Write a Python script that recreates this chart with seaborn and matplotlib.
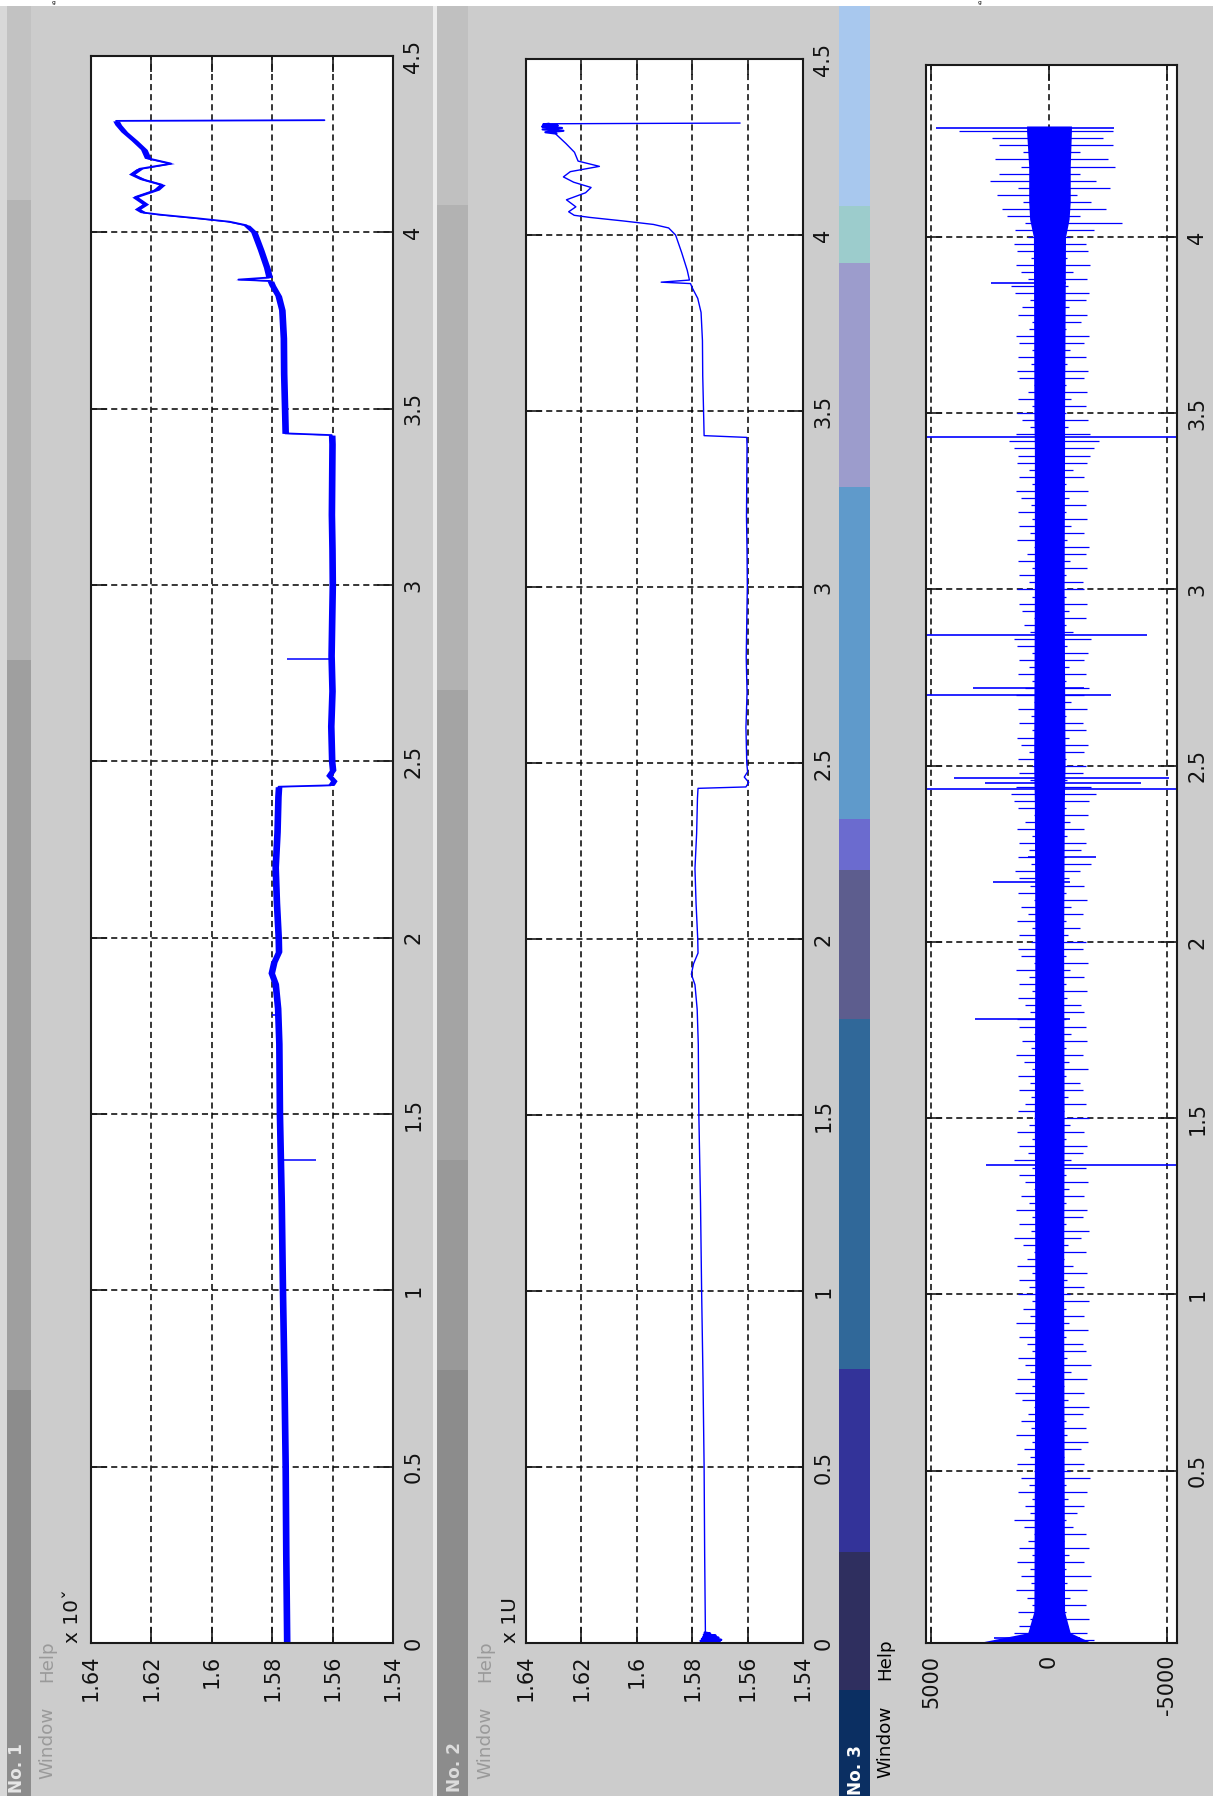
import numpy as np
import matplotlib
matplotlib.use("Agg")
import matplotlib.pyplot as plt
from matplotlib.patches import Rectangle
import seaborn as sns

# ------------------------------------------------------------------ data
value_ticks = [1.64, 1.62, 1.60, 1.58, 1.56, 1.54]
value_labels = ["1.64", "1.62", "1.6", "1.58", "1.56", "1.54"]
time_ticks = [0, 0.5, 1, 1.5, 2, 2.5, 3, 3.5, 4, 4.5]
time_labels = ["0", "0.5", "1", "1.5", "2", "2.5", "3", "3.5", "4", "4.5"]
amp_ticks = [5000, 0, -5000]
amp_labels = ["5000", "0", "-5000"]
amp_time_ticks = [0.5, 1, 1.5, 2, 2.5, 3, 3.5, 4]
amp_time_labels = ["0.5", "1", "1.5", "2", "2.5", "3", "3.5", "4"]

# shared trend of windows No. 1 and No. 2 (time, value)
trend_t = [0.000, 0.25, 0.50, 0.75, 1.00, 1.25, 1.50, 1.70, 1.80, 1.87,
           1.90, 1.93, 1.96, 2.00, 2.10, 2.20, 2.30, 2.40, 2.428, 2.432,
           2.445, 2.46, 2.475, 2.50, 2.60, 2.70, 2.80, 2.90, 3.00, 3.10,
           3.20, 3.30, 3.40, 3.425, 3.430, 3.50, 3.60, 3.70, 3.78, 3.82,
           3.85, 3.862, 3.866, 3.872, 3.90, 3.95, 4.00, 4.02, 4.03, 4.04,
           4.05, 4.056, 4.066, 4.08, 4.10, 4.12, 4.135, 4.15, 4.165, 4.18,
           4.195, 4.21, 4.235, 4.26, 4.285, 4.305, 4.316, 4.318]
trend_v = [1.5752, 1.5755, 1.5757, 1.5761, 1.5766, 1.5770, 1.5776, 1.5778, 1.5782, 1.5790,
           1.5803, 1.5795, 1.5779, 1.5780, 1.5786, 1.5790, 1.5784, 1.5781, 1.5779, 1.5606,
           1.5596, 1.5612, 1.5600, 1.5603, 1.5606, 1.5602, 1.5605, 1.5603, 1.5601, 1.5602,
           1.5604, 1.5603, 1.5602, 1.5603, 1.5757, 1.5759, 1.5762, 1.5763, 1.5768, 1.5780,
           1.5800, 1.5806, 1.5912, 1.5810, 1.5818, 1.5838, 1.5860, 1.5885, 1.5940, 1.6050,
           1.6170, 1.6226, 1.6246, 1.6220, 1.6254, 1.6185, 1.6165, 1.6228, 1.6265, 1.6240,
           1.6135, 1.6212, 1.6225, 1.6256, 1.6290, 1.6310, 1.6317, 1.5627]
p1_noise_halfwidth = 0.0011

# isolated spikes of window No. 1
p1_spike_t = [1.369, 1.780, 2.790]
p1_spike_from = [1.5770, 1.5780, 1.5604]
p1_spike_to = [1.5655, 1.5800, 1.5752]

# blobs of window No. 2
p2_start_t = [0.000, 0.003, 0.006, 0.009, 0.012, 0.015, 0.018, 0.021, 0.024, 0.027, 0.030]
p2_start_v = [1.5752, 1.5700, 1.5770, 1.5695, 1.5765, 1.5705, 1.5760, 1.5715, 1.5758, 1.5735, 1.5755]
p2_end_t = [4.288, 4.292, 4.296, 4.300, 4.304, 4.308, 4.311, 4.314, 4.316]
p2_end_v = [1.6290, 1.6330, 1.6265, 1.6340, 1.6270, 1.6342, 1.6285, 1.6338, 1.6317]

# window No. 3 : dense core band
core_t = [0.012, 0.04, 0.10, 0.50, 1.00, 1.50, 2.00, 2.40, 2.50, 3.00, 3.40, 3.50, 4.00, 4.05, 4.10, 4.20, 4.30, 4.315]
core_hi = [3000, 900, 640, 620, 600, 620, 600, 620, 650, 620, 620, 640, 660, 820, 860, 860, 950, 950]
core_lo = [-1800, -900, -660, -640, -620, -640, -620, -650, -680, -640, -660, -660, -700, -850, -900, -900, -950, -950]

# window No. 3 : sample extremes every 0.02 from t = 0.02
noise_hi = [
    2300, 1500, 1250, 800, 1300, 700, 950, 1400, 750, 1200,
    800, 1350, 700, 1250, 900, 650, 1050, 1500, 800, 1000,
    700, 1300, 850, 1200, 650, 1350, 800, 1050, 700, 1400,
    750, 1200, 900, 650, 1150, 1450, 700, 1350, 800, 1000,
    1300, 700, 950, 1250, 650, 1400, 800, 1100, 700, 1300,
    850, 1250, 700, 1350, 950, 650, 1100, 1500, 750, 1250,
    700, 1400, 850, 1200, 650, 1000, 1250, 700, 1500, 900,
    1250, 700, 1350, 850, 650, 1300, 1000, 750, 1250, 800,
    1300, 700, 1050, 1400, 750, 1150, 650, 1250, 1350, 800,
    1000, 1300, 700, 1250, 850, 1400, 650, 1200, 1300, 750,
    1250, 700, 1350, 900, 1200, 650, 1300, 800, 1250, 1450,
    750, 1300, 850, 1250, 700, 1350, 1000, 650, 1300, 1500,
    1600, 1400, 800, 1250, 700, 1300, 850, 1200, 1350, 700,
    1250, 750, 1300, 650, 1400, 1000, 700, 1300, 850, 1250,
    700, 1350, 1500, 800, 1050, 650, 1150, 1250, 700, 1350,
    850, 1250, 700, 1300, 950, 650, 1350, 800, 1250, 700,
    1300, 750, 1200, 1400, 700, 1250, 850, 1350, 1300, 1500,
    1700, 1400, 800, 1150, 1350, 700, 1300, 900, 650, 1250,
    1350, 750, 1300, 700, 1250, 1400, 850, 700, 1300, 1150,
    800, 1450, 1600, 900, 1200, 1400, 750, 1350, 1500, 900,
    1450, 1000, 1800, 2000, 1100, 2200, 1300, 2500, 2100, 1200,
    2300, 1100, 2100, 2400, 3800]
noise_lo = [
    -1900, -1600, -800, -1700, -700, -1550, -900, -1600, -750, -1800,
    -700, -1500, -850, -1700, -650, -1550, -1000, -700, -1200, -1500,
    -800, -1600, -700, -1750, -900, -1500, -650, -1350, -1650, -750,
    -1550, -700, -1450, -1700, -800, -1500, -650, -1600, -950, -1800,
    -750, -1550, -1450, -700, -1650, -850, -1500, -700, -1700, -900,
    -1500, -750, -1600, -1000, -650, -1550, -800, -1350, -1700, -700,
    -1450, -1600, -700, -1500, -850, -1650, -700, -1550, -950, -1450,
    -1600, -700, -1500, -900, -1700, -650, -1550, -800, -1450, -1300,
    -700, -1650, -850, -1450, -700, -1600, -950, -1550, -700, -1500,
    -1350, -750, -1600, -700, -1500, -900, -1650, -700, -1450, -1550,
    -800, -1300, -700, -1450, -950, -1600, -700, -1500, -850, -1300,
    -1800, -700, -1350, -1550, -750, -1500, -900, -1650, -700, -1700,
    -2000, -1800, -750, -1450, -1550, -700, -1500, -1650, -850, -1550,
    -1450, -700, -1600, -950, -1500, -1700, -700, -1550, -850, -1500,
    -1650, -750, -1800, -1000, -700, -1550, -850, -1600, -700, -1500,
    -1450, -700, -1600, -900, -1550, -1700, -750, -1500, -950, -1600,
    -700, -1550, -850, -1650, -700, -1500, -1000, -1600, -1750, -1900,
    -2100, -1750, -800, -1650, -700, -1550, -950, -1600, -700, -1500,
    -1650, -750, -1550, -900, -1500, -1700, -700, -1350, -1600, -850,
    -1550, -1700, -800, -1600, -1000, -1750, -750, -1650, -1550, -900,
    -1900, -3100, -1300, -2400, -1800, -1200, -2600, -2000, -1300, -2800,
    -2500, -1300, -2700, -2300, -2700]
noise_t0, noise_dt = 0.02, 0.02

# window No. 3 : isolated large spikes
big_t = [0.012, 0.025, 1.368, 1.780, 2.170, 2.240, 2.434, 2.452, 2.465, 2.700, 2.720, 2.870, 3.434, 3.870, 4.310]
big_hi = [3900, 2350, 2683, 3150, 2373, 900, 5212, 2700, 4025, 5212, 3220, 5212, 5212, 2470, 4800]
big_lo = [-2200, -1300, -5424, -900, -900, -1977, -5424, -3900, -5084, -2614, -1500, -4166, -5424, -700, -2750]

# ------------------------------------------------------------------ figure
sns.set_style("white")
plt.rcParams["font.family"] = ["DejaVu Sans"]

W, H = 1213, 1796
fig = plt.figure(figsize=(W / 100, H / 100), dpi=100)
fig.patch.set_facecolor("white")

bg = fig.add_axes([0, 0, 1, 1], zorder=0)
bg.set_xlim(0, W)
bg.set_ylim(H, 0)
bg.axis("off")


def rect(x0, x1, y0, y1, c):
    bg.add_patch(Rectangle((x0, y0), x1 - x0, y1 - y0, facecolor=c, edgecolor="none"))


# window bodies
rect(0, 7, 6, H, "#d8d8d8")
rect(31, 433, 6, H, "#cccccc")
rect(433, 437, 6, H, "#ececec")
rect(468, 839, 6, H, "#cccccc")
rect(870, W, 6, H, "#cccccc")

# title bars (rotated)
for y0, y1, c in [(6, 200, "#c2c2c2"), (200, 660, "#b4b4b4"), (660, 1390, "#9f9f9f"), (1390, H, "#8c8c8c")]:
    rect(7, 31, y0, y1, c)
for y0, y1, c in [(6, 205, "#c0c0c0"), (205, 690, "#b2b2b2"), (690, 1160, "#a4a4a4"),
                  (1160, 1370, "#999999"), (1370, H, "#8c8c8c")]:
    rect(437, 468, y0, y1, c)
for y0, y1, c in [(6, 206, "#a8c8ee"), (206, 263, "#9ccccc"), (263, 487, "#9c9ccc"),
                  (487, 819, "#5f9acb"), (819, 870, "#6b6bcf"), (870, 1019, "#5d5d8e"),
                  (1019, 1369, "#306899"), (1369, 1552, "#333399"), (1552, 1690, "#2f2f5f"),
                  (1690, H, "#0b2f62")]:
    rect(839, 870, y0, y1, c)

# tiny characters in the white strip at the very top
for gx in (53, 980):
    bg.text(gx, 0.3, "g", fontsize=4.2, ha="center", va="top", color="black")


# rotated window captions and menus
def vtext(x, y, s, size, color, weight="normal", va="center"):
    bg.text(x, y, s, rotation=90, ha="center", va=va, fontsize=size, color=color, fontweight=weight)


vtext(17, 1768, "No. 1", 12.2, "#e6e6e6", "bold")
vtext(47, 1743, "Window", 13.2, "#9a9a9a")
vtext(47, 1661, "Help", 13.2, "#9a9a9a")
vtext(72, 1643, "x 10\u02c7", 14.5, "#111111", va="bottom")

vtext(455, 1767, "No. 2", 12.2, "#dcdcdc", "bold")
vtext(485, 1743, "Window", 13.2, "#9a9a9a")
vtext(485, 1661, "Help", 13.2, "#9a9a9a")
vtext(511, 1643, "x 1U", 14.5, "#111111", va="bottom")

vtext(856, 1770, "No. 3", 12.2, "white", "bold")
vtext(885, 1742, "Window", 13.2, "black")
vtext(885, 1659, "Help", 13.2, "black")


def axes_px(x0, x1, y0, y1):
    return fig.add_axes([x0 / W, 1 - y1 / H, (x1 - x0) / W, (y1 - y0) / H], zorder=2)


def style(ax, vt, vl, tt, tl):
    ax.set_facecolor("white")
    ax.set_xticks(vt)
    ax.set_xticklabels(vl)
    ax.set_yticks(tt)
    ax.set_yticklabels(tl)
    ax.tick_params(axis="x", direction="in", length=11.5, width=1.2, top=True, bottom=True,
                   labelbottom=True, labeltop=False, labelrotation=90, pad=8.5,
                   labelsize=15, labelcolor="#111111", color="#1a1a1a")
    ax.tick_params(axis="y", direction="in", length=11.5, width=1.2, left=True, right=True,
                   labelleft=False, labelright=True, labelrotation=90, pad=7.5,
                   labelsize=15, labelcolor="#111111", color="#1a1a1a")
    for lab in ax.get_yticklabels():
        lab.set_va("center")
    ax.grid(True, color="black", linestyle=(0, (4, 2.6)), linewidth=1.1)
    ax.set_axisbelow(True)
    for s in ax.spines.values():
        s.set_visible(True)
        s.set_linewidth(1.5)
        s.set_color("#1a1a1a")
    ax.set_xlabel("")
    ax.set_ylabel("")


BLUE = "#0000ff"
tt = np.array(trend_t)
tv = np.array(trend_v)

# ---- window No. 1
ax1 = axes_px(91, 393, 56, 1643)
ax1.fill_betweenx(tt, tv - p1_noise_halfwidth, tv + p1_noise_halfwidth, color=BLUE, lw=0)
sns.lineplot(x=trend_v, y=trend_t, sort=False, estimator=None, ax=ax1, color=BLUE, linewidth=1.3)
ax1.hlines(p1_spike_t, p1_spike_from, p1_spike_to, color=BLUE, lw=1.1)
ax1.set_xlim(1.64, 1.54)
ax1.set_ylim(0, 4.5)
style(ax1, value_ticks, value_labels, time_ticks, time_labels)

# ---- window No. 2
ax2 = axes_px(526, 803, 59, 1643)
sns.lineplot(x=trend_v, y=trend_t, sort=False, estimator=None, ax=ax2, color=BLUE, linewidth=1.0)
sns.lineplot(x=p2_start_v, y=p2_start_t, sort=False, estimator=None, ax=ax2, color=BLUE, linewidth=1.6)
sns.lineplot(x=p2_end_v, y=p2_end_t, sort=False, estimator=None, ax=ax2, color=BLUE, linewidth=1.6)
ax2.set_xlim(1.64, 1.54)
ax2.set_ylim(0, 4.5)
style(ax2, value_ticks, value_labels, time_ticks, time_labels)

# ---- window No. 3
ax3 = axes_px(926, 1177, 65, 1643)
noise_t = noise_t0 + noise_dt * np.arange(len(noise_hi))
ax3.fill_betweenx(core_t, core_lo, core_hi, color=BLUE, lw=0)
ax3.hlines(noise_t, noise_lo, noise_hi, color=BLUE, lw=0.9)
ax3.hlines(big_t, big_lo, big_hi, color=BLUE, lw=1.2)
ax3.set_xlim(5212, -5424)
ax3.set_ylim(0.011, 4.488)
style(ax3, amp_ticks, amp_labels, amp_time_ticks, amp_time_labels)

fig.savefig("out.png", dpi=100, facecolor=fig.get_facecolor())
